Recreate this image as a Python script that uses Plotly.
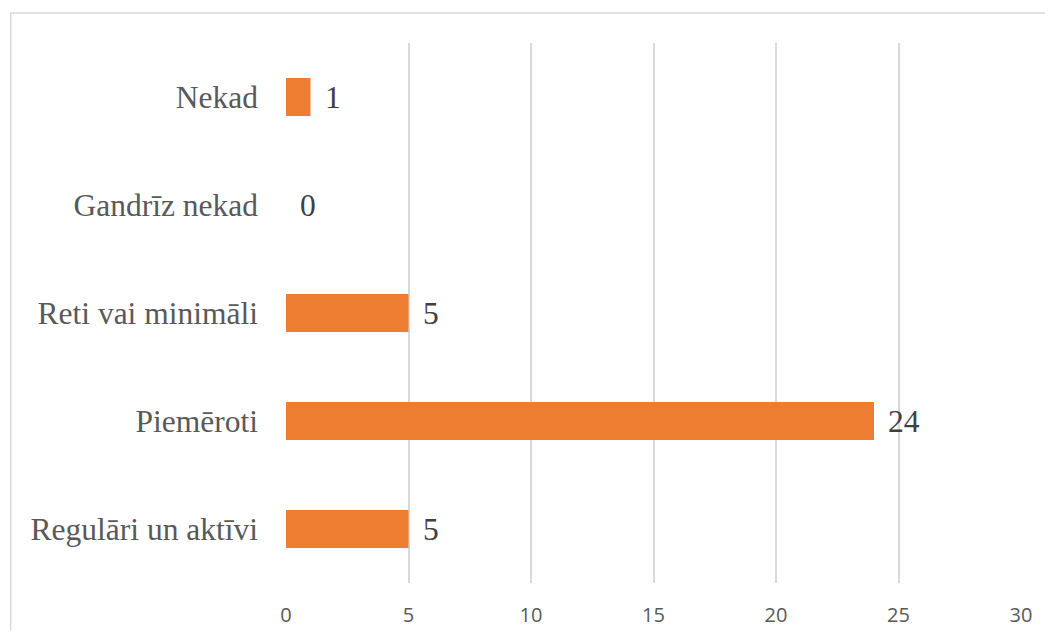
import plotly.graph_objects as go

categories = ["Regulāri un aktīvi", "Piemēroti", "Reti vai minimāli", "Gandrīz nekad", "Nekad"]
values = [5, 24, 5, 0, 1]
tick_vals = [0, 5, 10, 15, 20, 25, 30]

# page has an 8px body margin; figure sized to fit the 1053x638 window
W, H = 1045, 622
L, R, T, B = 277.5, 32, 35, 47
pw = W - L - R
ph = H - T - B

fig = go.Figure()
fig.add_trace(go.Bar(
    x=values, y=categories, orientation="h",
    marker=dict(color="#ED7D31", line=dict(width=0)),
    width=0.35, hoverinfo="skip",
))

for c, v in zip(categories, values):
    fig.add_annotation(
        x=v, y=c, xref="x", yref="y", text=str(v), showarrow=False,
        xanchor="left", yanchor="middle", xshift=12,
        font=dict(family="Liberation Serif", size=31.5, color="#404040"),
    )

# outer chart border (cropped at right and bottom)
fig.add_shape(
    type="rect", xref="paper", yref="paper",
    x0=(2 - L) / pw, x1=1.2, y0=-0.3, y1=(H - B - 5) / ph,
    line=dict(color="#D9D9D9", width=1.5), fillcolor="rgba(0,0,0,0)",
    layer="below",
)

fig.update_layout(
    width=W, height=H,
    margin=dict(l=L, r=R, t=T, b=B, autoexpand=False),
    plot_bgcolor="white", paper_bgcolor="white",
    showlegend=False,
    xaxis=dict(
        range=[0, 30], tickvals=tick_vals, showgrid=True,
        gridcolor="#D9D9D9", gridwidth=1.5, zeroline=False,
        showline=False, ticks="", ticklabelstandoff=18,
        tickfont=dict(family="Open Sans", size=20, color="#595959"),
        fixedrange=True,
    ),
    yaxis=dict(
        categoryorder="array", categoryarray=categories,
        showgrid=False, zeroline=False, showline=False, ticks="",
        ticklabelstandoff=27,
        tickfont=dict(family="Liberation Serif", size=31.5, color="#595959"),
        fixedrange=True,
    ),
)

fig.write_html("out.html")
